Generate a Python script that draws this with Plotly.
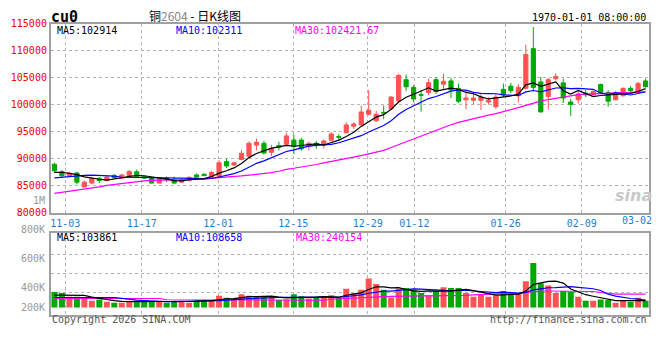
import plotly.graph_objects as go

# ---------------- data ----------------
idx = list(range(80))

open_ = [88980, 87600, 86880, 87370, 84780, 85500, 86400, 85980, 86880, 86400,
         86880, 87600, 86700, 86430, 85500, 86470, 86160, 85680, 85980, 87010,
         87150, 86520, 86700, 89490, 88860, 89880, 90480, 92540, 92870, 91200,
         92450, 92690, 93480, 93480, 92270, 92870, 92540, 93440, 94120, 94840,
         96050, 96280, 98260, 97040, 98620, 99280, 100720, 104670, 103240, 101890,
         102280, 104670, 103830, 104440, 103060, 100950, 100850, 100850, 100540, 99640,
         102880, 103470, 101670, 103060, 110420, 104260, 101560, 104850, 104080, 100540,
         100950, 102160, 101850, 103770, 102280, 100950, 101670, 103060, 102280, 104440]

high = [89270, 87910, 87600, 87600, 85980, 86580, 86580, 86880, 87190, 87190,
        87910, 88010, 86880, 86580, 86470, 86700, 86700, 86400, 86830, 87300,
        87240, 87780, 89760, 89990, 89400, 91640, 93260, 93770, 93350, 92580,
        93170, 94840, 94480, 93890, 93170, 93300, 93590, 94970, 94610, 96770,
        96770, 99870, 102750, 98870, 99870, 101620, 105750, 105630, 103650, 102750,
        104850, 105160, 105750, 105030, 103950, 102750, 102160, 102160, 101440, 102030,
        103950, 104080, 103830, 111140, 114430, 105160, 104980, 105880, 104850, 101080,
        102750, 102750, 102700, 103950, 102750, 102520, 103240, 103470, 104260, 104850]

low = [87480, 86580, 86700, 85270, 84730, 85270, 85500, 85800, 86290, 86340,
       86790, 86580, 86340, 85450, 85450, 85680, 85390, 85620, 85800, 86520,
       86790, 86470, 86340, 88320, 88680, 89760, 90300, 91550, 90840, 90480,
       91550, 92540, 90840, 91500, 91550, 91860, 91910, 93350, 93440, 94700,
       95560, 96230, 98110, 96860, 97360, 99100, 100540, 102520, 100540, 98740,
       101850, 102030, 102880, 101260, 100360, 99160, 100060, 99050, 100060, 99280,
       101440, 102160, 100490, 102880, 102520, 98560, 99160, 104490, 100360, 97970,
       100230, 101440, 101800, 102160, 99640, 100870, 101620, 101980, 102160, 103240]

close = [87780, 86880, 87330, 85680, 85680, 86400, 85980, 86610, 86470, 87010,
         87660, 86760, 86430, 85500, 86290, 86160, 85500, 86160, 86520, 86610,
         86880, 87480, 89270, 88680, 89270, 91020, 92870, 93080, 91070, 91910,
         92180, 94250, 92270, 91860, 92870, 92540, 93300, 94610, 94020, 96280,
         96460, 98690, 98980, 98260, 98510, 101440, 105450, 103360, 101080, 101800,
         104130, 102460, 104370, 102750, 100670, 101260, 101260, 101440, 100850, 101440,
         101850, 102640, 103240, 109350, 103240, 98690, 104670, 105270, 101260, 100060,
         102030, 101850, 102460, 102280, 100670, 102030, 103060, 102640, 103950, 103360]

volume = [320000, 312500, 282500, 282500, 269750, 252500, 262250, 245000, 237500, 237500,
          245000, 252500, 252500, 245000, 245000, 237500, 252500, 252500, 237500, 257750,
          257750, 257750, 290000, 275000, 262250, 302750, 290000, 287750, 287750, 275000,
          257750, 262250, 302750, 287750, 269750, 275000, 282500, 295250, 275000, 344750,
          312500, 337250, 425000, 382250, 337250, 277250, 344750, 350000, 337250, 312500,
          295250, 327500, 357500, 350000, 350000, 312500, 282500, 302750, 282500, 295250,
          327500, 307250, 307250, 402500, 545000, 387500, 370250, 312500, 327500, 320000,
          282500, 252500, 252500, 262250, 257750, 237500, 257750, 245000, 275000, 252500]

# moving-average values before enough candles are visible
ma5_head = [87480, 87510, 87300, 87060]
ma10_head = [86470, 86610, 86790, 86880, 86940, 86970, 86940, 86880, 86790]
ma30 = [83594, 83774, 84007, 84133, 84331, 84546, 84798, 85068, 85265, 85463,
        85643, 85822, 85930, 86020, 86074, 86092, 86110, 86146, 86164, 86182,
        86272, 86361, 86451, 86559, 86703, 86829, 86972, 87116, 87260, 87458,
        87691, 88051, 88248, 88446, 88662, 88949, 89255, 89524, 89758, 90009,
        90207, 90602, 90926, 91267, 91573, 92094, 92633, 93172, 93621, 94160,
        94699, 95275, 95778, 96317, 96766, 97125, 97485, 97790, 98096, 98383,
        98707, 99048, 99497, 99911, 100360, 100683, 100989, 101223, 101474, 101744,
        101905, 101995, 102049, 102085, 102121, 102157, 102193, 102229, 102283, 102421.67]

vol_ma5_head = [295250, 295250, 295250, 290000]
vol_ma10_head = [277250, 277250, 277250, 277250, 277250, 277250, 277250, 277250, 277250]
vol_ma30 = [269750] * 15 + [260000] * 10 + [256250] * 12 + \
    [263750, 267500, 269750, 271250, 275000, 278750, 282500, 284750, 286250, 288500] + \
    [290000] * 8 + [293750, 297500, 301250, 305000] + [307250] * 4 + \
    [316250, 323750] + [327500] * 7 + [323750, 316250, 308750] + [302750] * 5

VOL_BASE = 200000

date_ticks = [1.45, 11.66, 21.9, 31.92, 41.87, 48.1, 60.3, 70.47]
date_labels = ['11-03', '11-17', '12-01', '12-15', '12-29', '01-12', '01-26', '02-09']
last_label_pos = 77.8
last_label = '03-02'

price_ticks = list(range(80000, 115001, 5000))
vol_labels = ['800K', '600K', '400K', '200K']

legend_price = ['MA5:102914', 'MA10:102311', 'MA30:102421.67']
legend_vol = ['MA5:103861', 'MA10:108658', 'MA30:240154']


def rolling(vals, n, head):
    out = list(head)
    for i in range(n - 1, len(vals)):
        out.append(sum(vals[i - n + 1:i + 1]) / n)
    return out


ma5 = rolling(close, 5, ma5_head)
ma10 = rolling(close, 10, ma10_head)
vol_ma5 = rolling(volume, 5, vol_ma5_head)
vol_ma10 = rolling(volume, 10, vol_ma10_head)

# ---------------- styling ----------------
W, H = 660, 360
RED = '#ff5252'
GREEN = '#00a800'
MONO = 'DejaVu Sans Mono'
GRID = '#b4b4b4'
FRAME = '#a0a0a0'


def fx(p):
    return p / W


def fy(p):
    return 1 - p / H


bar_colors = [RED if c > o else GREEN for o, c in zip(open_, close)]

fig = go.Figure()
fig.add_trace(go.Candlestick(
    x=idx, open=open_, high=high, low=low, close=close,
    increasing=dict(line=dict(color=RED, width=1), fillcolor=RED),
    decreasing=dict(line=dict(color=GREEN, width=1), fillcolor=GREEN),
    whiskerwidth=0, xaxis='x', yaxis='y', hoverinfo='skip'))
for vals, col in ((ma30, '#ff00ff'), (ma10, '#0000ff'), (ma5, '#000000')):
    fig.add_trace(go.Scatter(x=idx, y=vals, mode='lines', line=dict(color=col, width=1.2),
                             xaxis='x', yaxis='y', hoverinfo='skip'))

fig.add_trace(go.Bar(x=idx, y=[v - VOL_BASE for v in volume], base=VOL_BASE,
                     marker=dict(color=bar_colors, line=dict(width=0)), width=0.8,
                     xaxis='x2', yaxis='y2', hoverinfo='skip'))
for vals, col in ((vol_ma30, '#ff00ff'), (vol_ma10, '#0000ff'), (vol_ma5, '#000000')):
    fig.add_trace(go.Scatter(x=idx, y=vals, mode='lines', line=dict(color=col, width=1.2),
                             xaxis='x2', yaxis='y2', hoverinfo='skip'))

xdom = [fx(50.7), fx(649.3)]
common_x = dict(range=[-0.5, 79.5], tickvals=date_ticks, ticktext=date_labels,
                showgrid=True, gridcolor=GRID, griddash='dot', gridwidth=1,
                showline=True, mirror=True, linecolor=FRAME, linewidth=1.5,
                ticks='', zeroline=False, domain=xdom, fixedrange=True)

fig.update_layout(
    width=W, height=H, margin=dict(l=0, r=0, t=0, b=0),
    paper_bgcolor='white', plot_bgcolor='white', showlegend=False,
    boxgap=0.2, bargap=0.2,
    xaxis=dict(**common_x, anchor='y', rangeslider=dict(visible=False),
               tickfont=dict(family=MONO, size=10, color='#1c7fd6')),
    xaxis2=dict(**common_x, anchor='y2', matches='x', showticklabels=False),
    yaxis=dict(domain=[fy(213.3), fy(18.5)], range=[80000, 115000], tickvals=price_ticks,
               ticktext=[str(t) for t in price_ticks],
               tickfont=dict(family=MONO, size=10, color='#ee0000'),
               showgrid=True, gridcolor=GRID, griddash='dot', showline=True, mirror=True,
               linecolor=FRAME, linewidth=1.5, ticks='', zeroline=False, anchor='x',
               fixedrange=True),
    yaxis2=dict(domain=[fy(318.3), fy(234.3)], range=[145250, 775250],
                tickvals=[312500, 462500, 612500], showticklabels=False,
                showgrid=True, gridcolor=GRID, griddash='dot', showline=True, mirror=True,
                linecolor=FRAME, linewidth=1.5, ticks='', zeroline=False, anchor='x2',
                fixedrange=True),
)

ann = []


def text(x, y, s, color='#000', size=10, xanchor='left', family=MONO, xref='paper'):
    ann.append(dict(x=x, y=y, xref=xref, yref='paper', text=s, showarrow=False,
                    xanchor=xanchor, yanchor='middle',
                    font=dict(family=family, size=size, color=color)))


text(fx(49), fy(11), '<b>cu0</b>', size=15)
text(fx(195), fy(10), '铜<span style="color:#888888">2604</span> - 日K线图', size=12,
     xanchor='center', family='Noto Sans CJK SC')
text(fx(648), fy(12), '1970-01-01 08:00:00', xanchor='right')
text(fx(55), fy(25), legend_price[0], color='#000000')
text(fx(174), fy(25), legend_price[1], color='#0000ff')
text(fx(293), fy(25), legend_price[2], color='#ff00ff')
text(fx(46.7), fy(200.7), '1M', color='#999999', xanchor='right')
text(fx(55), fy(239), legend_vol[0], color='#000000')
text(fx(174), fy(239), legend_vol[1], color='#0000ff')
text(fx(294), fy(239), legend_vol[2], color='#ff00ff')
for lab, py in zip(vol_labels, [231, 260.7, 290.7, 310.7]):
    text(fx(46.7), fy(py), lab, color='#999999', xanchor='right')
text(last_label_pos, fy(221.5), last_label, color='#1c7fd6', xanchor='center', xref='x')
text(fx(50), fy(323.5), 'Copyright 2026 SINA.COM', color='#555555')
text(fx(649), fy(323.5), 'http://finance.sina.com.cn', color='#555555', xanchor='right')
text(fx(633), fy(195), '<b><i>sina</i></b>', color='#c8c8c8', size=16, xanchor='center',
     family='DejaVu Sans')

fig.update_layout(annotations=ann)
fig.write_html('out.html', config={'displayModeBar': False},
               post_script="document.body.style.margin='0';")
